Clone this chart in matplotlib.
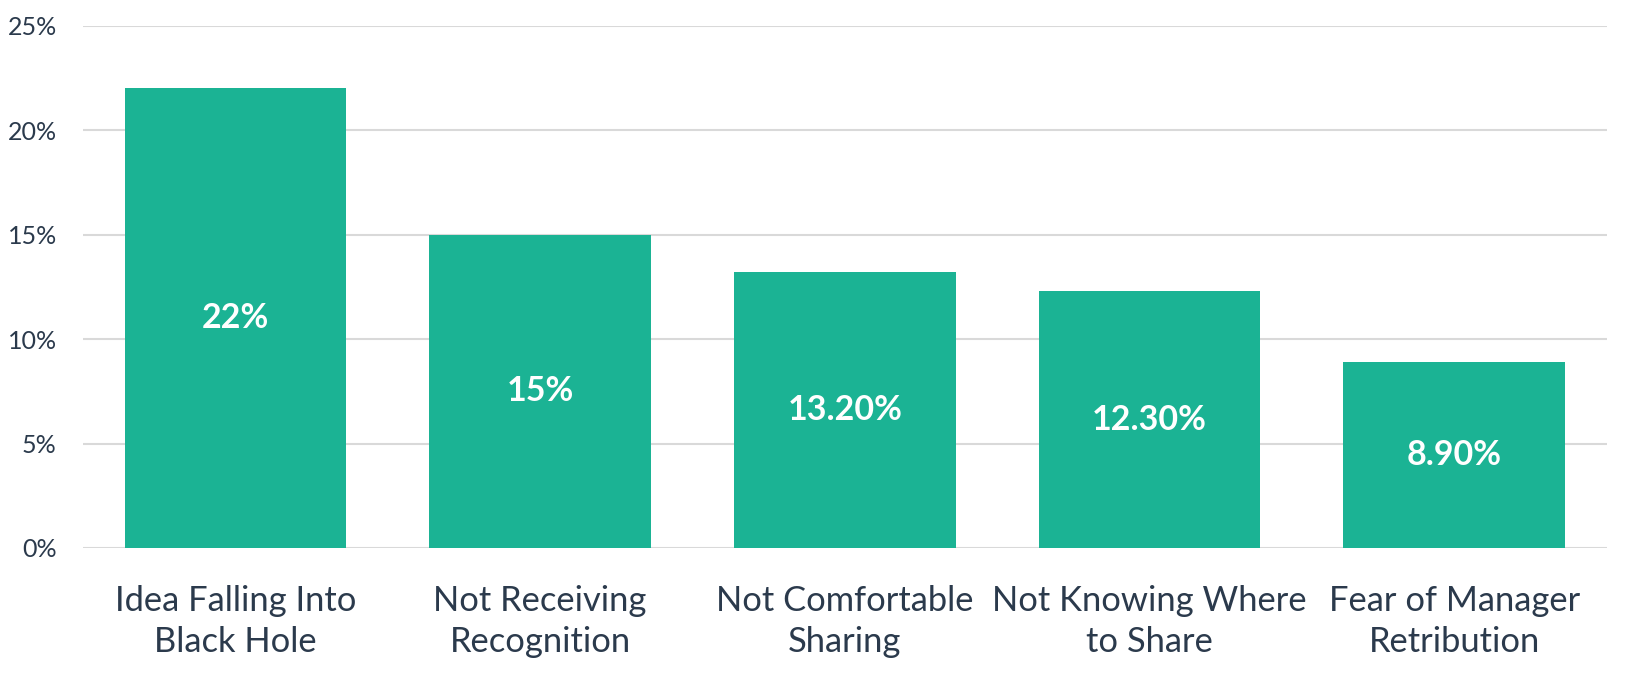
import matplotlib
matplotlib.use('Agg')
import matplotlib.pyplot as plt

categories = ['Idea Falling Into\nBlack Hole', 'Not Receiving\nRecognition', 'Not Comfortable\nSharing',
              'Not Knowing Where\nto Share', 'Fear of Manager\nRetribution']
values = [22, 15, 13.2, 12.3, 8.9]
value_labels = ['22%', '15%', '13.20%', '12.30%', '8.90%']
yticks = [0, 5, 10, 15, 20, 25]

bar_color = '#1bb394'
text_color = '#2b3a4c'
grid_color = '#d9d9d9'

plt.rcParams['font.family'] = ['Lato', 'DejaVu Sans']

fig = plt.figure(figsize=(16.31, 6.79), dpi=100)
ax = fig.add_axes([0.051, 0.193, 0.934, 0.769])

x = range(len(categories))
bars = ax.bar(x, values, width=0.727, color=bar_color, zorder=3)

for b, lab in zip(bars, value_labels):
    ax.text(b.get_x() + b.get_width() / 2, b.get_height() / 2, lab,
            ha='center', va='center', color='white', fontsize=24.5, fontweight='bold', zorder=4)

ax.set_xlim(-0.5, len(categories) - 0.5)
ax.set_ylim(0, 25)
ax.set_yticks(yticks)
ax.set_yticklabels([f'{t}%' for t in yticks], fontsize=18, color=text_color)
ax.set_xticks(list(x))
ax.set_xticklabels(categories, fontsize=24.8, color=text_color, linespacing=1.32)

ax.yaxis.grid(True, color=grid_color, linewidth=1.5, zorder=0)
ax.tick_params(axis='both', length=0)
ax.tick_params(axis='y', pad=19)
ax.tick_params(axis='x', pad=27)
for s in ax.spines.values():
    s.set_visible(False)

fig.savefig('out.png', dpi=100)
